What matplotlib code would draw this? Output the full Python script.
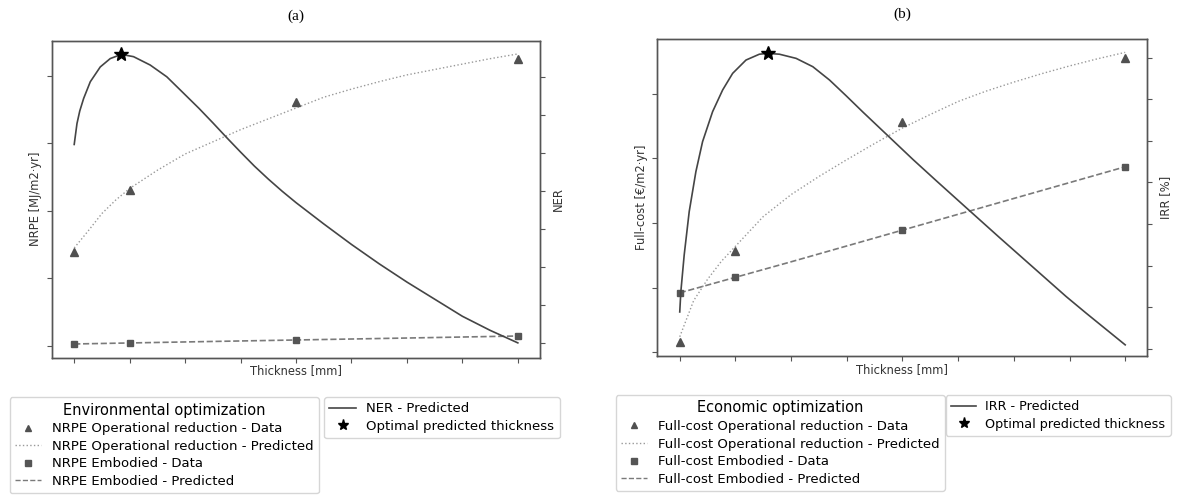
import matplotlib
matplotlib.use("Agg")
import matplotlib.pyplot as plt
from matplotlib.lines import Line2D

# ---------------- data (x in thickness-tick positions, tick labels hidden) ----------------
tick_pos = [0, 1, 2, 3, 4, 5, 6, 7, 8]
data_pos = [0, 1, 4, 8]

# Panel (a) - environmental
nrpe_oper_data = [13.95, 23.08, 36.09, 42.41]
nrpe_oper_pred_x = [0, 0.25, 0.5, 0.75, 1, 1.5, 2, 2.5, 3, 3.5, 4, 4.5, 5, 5.5, 6, 6.5, 7, 7.5, 8]
nrpe_oper_pred = [14.5, 17.0, 19.6, 21.6, 23.3, 26.0, 28.4, 30.2, 32.0, 33.6, 35.2, 36.8,
                  38.0, 39.1, 40.1, 40.9, 41.7, 42.5, 43.2]
nrpe_emb_data = [0.30, 0.40, 0.89, 1.48]
nrpe_emb_pred_x = [0, 2, 4, 6, 8]
nrpe_emb_pred = [0.30, 0.60, 0.89, 1.18, 1.48]
ner_pred_x = [0, 0.05, 0.1, 0.17, 0.29, 0.47, 0.65, 0.85, 1.07, 1.37, 1.67, 1.95, 2.25,
              2.5, 2.75, 3.0, 3.25, 3.5, 3.75, 4.0, 4.5, 5.0, 5.5, 6.0, 6.5, 7.0, 7.5, 8.0]
ner_pred = [5.22, 5.77, 6.1, 6.43, 6.87, 7.26, 7.48, 7.59, 7.53, 7.31, 7.0, 6.6, 6.17,
            5.79, 5.40, 5.02, 4.65, 4.31, 3.99, 3.69, 3.13, 2.59, 2.08, 1.60, 1.15, 0.70,
            0.33, 0.0]
ner_opt = (0.85, 7.59)

# Panel (b) - economic
fc_oper_data = [1.59, 15.6, 35.6, 45.5]
fc_oper_pred_x = [0, 0.25, 0.5, 0.75, 1, 1.5, 2, 2.5, 3, 3.5, 4, 4.5, 5, 5.5, 6, 6.5, 7, 7.5, 8]
fc_oper_pred = [2.4, 8.0, 11.3, 14.1, 16.4, 21.0, 24.4, 27.2, 29.8, 32.3, 34.7, 36.8,
                38.8, 40.4, 41.8, 43.1, 44.3, 45.4, 46.4]
fc_emb_data = [9.17, 11.6, 18.9, 28.7]
fc_emb_pred_x = [0, 2, 4, 6, 8]
fc_emb_pred = [9.2, 14.0, 18.9, 23.8, 28.7]
irr_pred_x = [0, 0.02, 0.08, 0.17, 0.29, 0.41, 0.59, 0.77, 0.95, 1.19, 1.43, 1.58, 1.79,
              2.09, 2.39, 2.69, 2.99, 3.29, 3.59, 3.89, 4.19, 4.6, 5.14, 5.74, 6.34, 6.94,
              7.3, 8.0]
irr_pred = [0.89, 1.38, 2.26, 3.30, 4.26, 4.98, 5.70, 6.22, 6.62, 6.94, 7.08, 7.10, 7.08,
            6.98, 6.78, 6.46, 6.08, 5.69, 5.31, 4.93, 4.55, 4.05, 3.40, 2.68, 1.97, 1.26,
            0.86, 0.10]
irr_opt = (1.58, 7.10)

# ---------------- style ----------------
C_TRI = "#505050"
C_SQ = "#555555"
C_DOT = "#999999"
C_DASH = "#7a7a7a"
C_MAIN = "#454545"
C_SPINE = "#555555"

fig = plt.figure(figsize=(11.77, 5.0), dpi=100)


def setup(ax, ax2, ylim, ylim2, ylabel, ylabel2):
    ax.set_xlim(-0.4, 8.4)
    ax.set_ylim(*ylim)
    ax2.set_ylim(*ylim2)
    ax.set_xticks(tick_pos)
    ax.set_xticklabels([])
    ax.set_yticks([0, 10, 20, 30, 40])
    ax.set_yticklabels([])
    ax2.set_yticks(range(8))
    ax2.set_yticklabels([])
    for a in (ax, ax2):
        a.tick_params(length=3.5, width=0.8, color=C_SPINE)
        for s in a.spines.values():
            s.set_color(C_SPINE)
            s.set_linewidth(1.0)
    ax.set_xlabel("Thickness [mm]", fontsize=8.3, color="#333333", labelpad=-2.5)
    ax.set_ylabel(ylabel, fontsize=8.3, color="#333333", labelpad=0)
    ax2.set_ylabel(ylabel2, fontsize=8.3, color="#333333", labelpad=1.5)


# ---------- panel (a) ----------
axA = fig.add_axes([0.0442, 0.2846, 0.4146, 0.634])
axA2 = axA.twinx()
axA.plot(nrpe_oper_pred_x, nrpe_oper_pred, ls=":", color=C_DOT, lw=1.0)
axA.plot(data_pos, nrpe_oper_data, ls="none", marker="^", ms=5.5, color=C_TRI)
axA.plot(nrpe_emb_pred_x, nrpe_emb_pred, ls="--", color=C_DASH, lw=1.2)
axA.plot(data_pos, nrpe_emb_data, ls="none", marker="s", ms=5, color=C_SQ)
axA2.plot(ner_pred_x, ner_pred, ls="-", color=C_MAIN, lw=1.2)
axA2.plot([ner_opt[0]], [ner_opt[1]], ls="none", marker="*", ms=10, color="black")
setup(axA, axA2, (-1.73, 45.16), (-0.39, 7.95), "NRPE [MJ/m2\u00b7yr]", "NER")
axA.set_title("(a)", fontsize=11, family="Liberation Serif", pad=15)

# ---------- panel (b) ----------
axB = fig.add_axes([0.5586, 0.2874, 0.4163, 0.635])
axB2 = axB.twinx()
axB.plot(fc_oper_pred_x, fc_oper_pred, ls=":", color=C_DOT, lw=1.0)
axB.plot(data_pos, fc_oper_data, ls="none", marker="^", ms=5.5, color=C_TRI)
axB.plot(fc_emb_pred_x, fc_emb_pred, ls="--", color=C_DASH, lw=1.2)
axB.plot(data_pos, fc_emb_data, ls="none", marker="s", ms=5, color=C_SQ)
axB2.plot(irr_pred_x, irr_pred, ls="-", color=C_MAIN, lw=1.2)
axB2.plot([irr_opt[0]], [irr_opt[1]], ls="none", marker="*", ms=10, color="black")
setup(axB, axB2, (-0.62, 48.5), (-0.175, 7.45), "Full-cost [\u20ac/m2\u00b7yr]", "IRR [%]")
axB.set_title("(b)", fontsize=11, family="Liberation Serif", pad=15)


# ---------- legends ----------
def data_handles(prefix):
    return [
        Line2D([], [], ls="none", marker="^", ms=5, color=C_TRI, label=f"{prefix} Operational reduction - Data"),
        Line2D([], [], ls=":", color=C_DOT, lw=1.0, label=f"{prefix} Operational reduction - Predicted"),
        Line2D([], [], ls="none", marker="s", ms=4.5, color=C_SQ, label=f"{prefix} Embodied - Data"),
        Line2D([], [], ls="--", color=C_DASH, lw=1.0, label=f"{prefix} Embodied - Predicted"),
    ]


def pred_handles(name):
    return [
        Line2D([], [], ls="-", color=C_MAIN, lw=1.2, label=f"{name} - Predicted"),
        Line2D([], [], ls="none", marker="*", ms=8, color="black", label="Optimal predicted thickness"),
    ]


leg_kw = dict(loc="upper left", bbox_transform=fig.transFigure, fontsize=9.5,
              title_fontsize=10.5, borderaxespad=0, labelspacing=0.35)

fig.legend(handles=data_handles("NRPE"), title="Environmental optimization",
           bbox_to_anchor=(0.0081, 0.2054), **leg_kw)
fig.legend(handles=pred_handles("NER"), bbox_to_anchor=(0.2753, 0.206), **leg_kw)
fig.legend(handles=data_handles("Full-cost"), title="Economic optimization",
           bbox_to_anchor=(0.523, 0.21), **leg_kw)
leg_kw_b = dict(leg_kw, fontsize=9.2, handletextpad=0.7)
fig.legend(handles=pred_handles("IRR"), bbox_to_anchor=(0.8035, 0.21), **leg_kw_b)

fig.savefig("out.png", dpi=100)
